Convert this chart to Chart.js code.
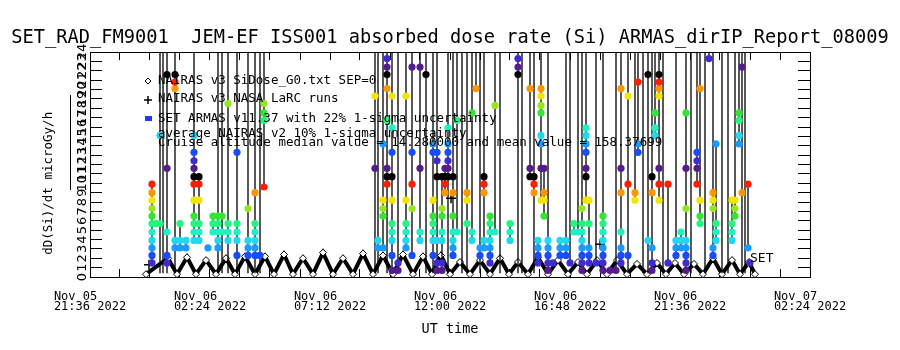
<!DOCTYPE html>
<html>
<head>
<meta charset="utf-8">
<script src="https://cdn.jsdelivr.net/npm/chart.js@4/dist/chart.umd.min.js"></script>
<style>
  html, body { margin: 0; padding: 0; background: #fff; }
</style>
</head>
<body>
<canvas id="dose" width="900" height="350"></canvas>
<script>
// time axis in hours since Nov 05 00:00 UT
const xTickHours = [21.6, 26.4, 31.2, 36.0, 40.8, 45.6, 50.4];
const xTickLabels = [
  ['Nov 05    ', '21:36 2022'],
  ['Nov 06    ', '02:24 2022'],
  ['Nov 06    ', '07:12 2022'],
  ['Nov 06    ', '12:00 2022'],
  ['Nov 06    ', '16:48 2022'],
  ['Nov 06    ', '21:36 2022'],
  ['Nov 07    ', '02:24 2022']
];

// SET ARMAS v11.37 samples, one column per burst (150 = off scale)
const armasTime = [
  24.08, 24.24, 24.40, 24.52, 24.68, 25.00, 25.20, 25.44, 25.76, 25.96,
  26.32, 26.52, 26.72, 26.88, 27.12, 27.48, 27.92, 28.20, 28.40, 28.56,
  33.00, 33.12, 33.32, 33.48, 33.68, 33.92, 34.24, 34.48, 34.80, 35.04,
  35.32, 35.48, 35.68, 35.80, 35.92, 36.12, 36.28, 36.48,
  36.68, 36.88, 37.04, 37.20, 37.36, 37.60, 37.80, 38.00, 38.40, 38.72,
  38.88, 39.20, 39.36, 39.52, 39.64, 39.76, 39.92, 40.12, 40.40, 40.64, 40.80,
  40.96, 41.12, 41.28, 41.44, 41.56, 41.84, 42.12, 42.40, 42.64, 42.84,
  43.12, 43.40, 43.52, 43.72,
  43.92, 44.08, 44.20, 44.36, 44.52, 44.72, 45.04, 45.24, 45.44, 45.64,
  45.88, 46.00, 46.20, 46.36,
  46.52, 46.64, 46.88, 47.12, 47.28, 47.40, 47.56, 47.68, 47.80, 47.92, 48.00
];
const armasDose = [
  [1.5, 2.3, 3.1, 3.9, 4.8, 5.7, 6.5, 7.3, 8.2, 9.0, 9.9],
  [5.7],
  [0.4, 5.7, 15.1, 150],
  [0.4, 150],
  [0.4, 1.5, 2.3, 4.8, 11.6, 21.6, 150],
  [0.4, 3.1, 3.9, 20.1, 20.8, 21.6, 150],
  [3.1, 3.9, 5.7],
  [3.1, 3.9],
  [3.9, 4.8, 5.7, 6.5, 8.2, 9.9, 10.7, 11.6, 12.4, 13.3, 15.1, 150],
  [3.9, 4.8, 5.7, 8.2, 9.9, 10.7],
  [3.1],
  [4.8, 5.7, 6.5],
  [0.4, 3.1, 3.9, 4.8, 5.7, 6.5, 150],
  [0.4, 4.8, 6.5, 150],
  [0.4, 3.9, 4.8, 5.7, 18.5, 150],
  [0.4, 2.3, 3.9, 4.8, 5.7, 13.3, 150],
  [0.4, 2.3, 3.1, 3.9, 7.3, 150],
  [0.4, 2.3, 3.1, 3.9, 4.8, 5.7, 9.0, 150],
  [0.4, 2.3, 150],
  [9.6, 16.7, 17.5, 18.5, 150],
  [0.4, 11.6, 19.3, 150],
  [0.4, 3.1, 3.9, 150],
  [3.1, 6.5, 7.3, 8.2, 14.2, 150],
  [0.4, 9.9, 10.7, 11.6, 16.7, 20.1, 21.6, 22.4, 23.3, 150],
  [0.7, 2.3, 3.9, 4.8, 5.7, 8.2, 10.7, 13.3, 15.9, 19.3, 150],
  [0.7, 1.5, 150],
  [3.1, 3.9, 4.8, 5.7, 8.2, 19.3, 150],
  [2.3, 7.3, 9.9, 13.3, 22.4, 150],
  [3.9, 4.8, 11.6, 22.4, 150],
  [0.4, 21.6, 150],
  [0.4, 2.3, 3.9, 4.8, 5.7, 6.5, 8.2, 13.3, 14.2, 150],
  [0.7, 1.5, 3.9, 10.7, 12.4, 13.3, 150],
  [0.7, 1.5, 3.9, 4.8, 6.5, 7.3, 10.7],
  [9.0, 9.9, 10.7, 11.6],
  [0.4, 10.7, 11.6, 12.4, 13.3, 14.2, 15.9, 150],
  [2.3, 3.1, 3.9, 4.8, 6.5, 9.0, 10.7, 150],
  [4.8, 16.7, 150],
  [0.4, 150],
  [0.4, 5.7, 8.2, 9.0, 150],
  [3.9, 4.8, 17.5, 150],
  [20.1, 150],
  [0.4, 2.3, 3.1, 150],
  [3.1, 3.9, 9.0, 9.9, 10.7, 150],
  [1.5, 2.3, 3.1, 3.9, 4.8, 5.7, 6.5],
  [4.8, 18.3, 150],
  [0.4, 150],
  [3.9, 4.8, 5.7],
  [0.4, 21.6, 22.4, 23.3, 150],
  [0.4, 150],
  [10.7, 11.6, 20.1, 150],
  [0.4, 9.0, 9.9, 10.7, 150],
  [1.5, 2.3, 3.1, 3.9],
  [8.2, 11.6, 14.2, 15.1, 17.5, 18.3, 19.3, 20.1, 150],
  [6.5, 8.2, 9.0, 11.6],
  [0.7, 1.5, 2.3, 3.1, 3.9, 150],
  [1.5],
  [2.3, 3.1, 3.9],
  [2.3, 3.1, 3.9, 150],
  [1.5, 150],
  [4.8, 5.7],
  [4.8, 150],
  [0.7, 1.5, 2.3, 3.1, 3.9, 4.8, 5.7, 7.3, 150],
  [8.2, 10.7, 11.6, 13.3, 14.2, 15.1, 15.9, 150],
  [1.5, 2.3, 3.1, 5.7, 8.2],
  [1.5, 150],
  [0.7, 1.5, 2.3, 3.1, 3.9, 4.8, 5.7, 6.5, 150],
  [0.7],
  [0.7, 150],
  [1.5, 2.3, 3.1, 4.8, 9.0, 11.6, 20.1, 150],
  [0.4, 2.3, 9.9, 19.3, 150],
  [8.2, 9.0, 150],
  [13.3, 14.2, 20.8, 150],
  [0.4, 150],
  [0.4, 3.9, 21.6, 150],
  [0.7, 1.5, 3.1, 9.0, 10.7, 150],
  [15.1, 15.9, 17.5, 150],
  [8.2, 9.9, 11.6, 19.3, 20.1, 20.8, 21.6, 150],
  [0.4, 150],
  [1.5, 9.9],
  [2.3, 3.1, 3.9, 150],
  [3.1, 3.9, 4.8],
  [0.7, 1.5, 2.3, 3.1, 3.9, 7.3, 11.6, 17.5, 150],
  [0.4, 150],
  [9.9, 11.6, 12.4, 13.3, 150],
  [5.7, 6.5, 8.2, 20.1, 150],
  [0.4, 150],
  [23.3, 150],
  [2.3, 3.1, 7.3, 8.2, 9.0, 150],
  [3.9, 4.8, 5.7, 14.2],
  [0.4, 150],
  [0.4, 150],
  [3.9, 4.8, 5.7, 8.2],
  [6.5, 7.3, 8.2, 150],
  [14.2, 15.1, 16.7, 17.5, 150],
  [0.4, 9.0, 22.4, 150],
  [0.4, 150],
  [3.1, 9.9],
  [1.5]
];

// NAIRAS v3 SiDose_G0 (orbit-modulated dose)
const nairasTime = [
  23.84, 24.72, 25.08, 25.48, 25.84, 26.24, 26.64, 27.04, 27.40, 27.80,
  28.20, 28.60, 28.96, 29.36, 29.72, 30.12, 30.52, 30.92, 31.32, 31.72,
  32.12, 32.52, 32.92, 33.32, 33.72, 34.12, 34.52, 34.92, 35.28, 35.64,
  36.00, 36.40, 36.80, 37.20, 37.60, 38.00, 38.36, 38.72, 39.12, 39.52,
  39.92, 40.32, 40.72, 41.12, 41.48, 41.88, 42.28, 42.68, 43.08, 43.48,
  43.88, 44.28, 44.64, 45.00, 45.36, 45.76, 46.12, 46.52, 46.88, 47.28,
  47.60, 47.96, 48.20
];
const nairasDose = [
  0.3, 2.0, 0.3, 2.1, 0.3, 1.8, 0.3, 2.0, 0.3, 2.2,
  0.3, 2.2, 0.3, 2.4, 0.3, 2.0, 0.3, 2.6, 0.3, 2.0,
  0.3, 2.5, 0.3, 2.3, 0.3, 2.4, 0.3, 2.2, 0.3, 2.3,
  0.3, 1.6, 0.3, 1.8, 0.3, 2.0, 0.3, 1.6, 0.3, 2.1,
  0.3, 1.8, 0.3, 1.6, 0.3, 1.8, 0.3, 1.8, 0.3, 1.4,
  0.3, 1.5, 0.3, 1.5, 0.3, 1.4, 0.3, 2.0, 0.3, 1.8,
  0.3, 1.6, 0.3
];

// NAIRAS v3 NASA LaRC runs
const larcTime = [23.96, 36.04, 42.00];
const larcDose = [1.3, 8.4, 3.5];

const legendLines = [
  'NAIRAS v3 SiDose_G0.txt SEP=0',
  'NAIRAS v3 NASA LaRC runs',
  'SET ARMAS v11.37 with 22% 1-sigma uncertainty',
  'average NAIRAS v2 10% 1-sigma uncertainty',
  'Cruise altitude median value = 14.280000 and mean value = 158.37699'
];

// rainbow colour table cycling with dose level
const levelColors = ['#561b8d', '#3f2ccf', '#1a4cff', '#1a9bff', '#22d8ee', '#22f0c0',
  '#22f580', '#33e633', '#96e61e', '#f0e600', '#ff9600', '#ff1e00', '#000000'];
function levelColor(v) {
  if (v == null) return '#000';
  let i = Math.round((v - 0.7) / 0.835) % 13;
  if (i < 0) i += 13;
  return levelColors[i];
}

const armasPoints = [];
armasTime.forEach((t, i) => {
  armasDose[i].forEach(d => armasPoints.push({x: t, y: d}));
  armasPoints.push({x: t, y: null});
});
const nairasPoints = nairasTime.map((t, i) => ({x: t, y: nairasDose[i]}));
const larcPoints = larcTime.map((t, i) => ({x: t, y: larcDose[i]}));

const allTicks = [];
for (let i = 0; i < xTickHours.length - 1; i++) {
  for (let k = 0; k < 4; k++) allTicks.push(xTickHours[i] + k * (xTickHours[i + 1] - xTickHours[i]) / 4);
}
allTicks.push(xTickHours[xTickHours.length - 1]);

const FONT = 'DejaVu Sans';
const MONO = 'DejaVu Sans Mono';

const overlay = {
  id: 'overlay',
  beforeDraw(chart) {
    const c = chart.ctx;
    c.save();
    c.fillStyle = '#fff';
    c.fillRect(0, 0, chart.width, chart.height);
    c.restore();
  },
  afterDatasetsDraw(chart) {
    const c = chart.ctx;
    c.save();
    c.fillStyle = '#000';
    c.strokeStyle = '#000';
    c.font = '12.5px "' + MONO + '"';
    c.textBaseline = 'middle';
    const ly = [81, 99, 119, 134, 143];
    legendLines.forEach((s, i) => c.fillText(s, 158, ly[i]));
    // diamond
    c.lineWidth = 1;
    c.beginPath();
    c.moveTo(148, 78); c.lineTo(151, 81); c.lineTo(148, 84); c.lineTo(145, 81); c.closePath();
    c.stroke();
    // plus
    c.lineWidth = 1.5;
    c.beginPath();
    c.moveTo(144, 100); c.lineTo(152, 100); c.moveTo(148, 96); c.lineTo(148, 104);
    c.stroke();
    // square
    c.fillStyle = '#1a3cff';
    c.fillRect(145, 116, 7, 5);
    c.fillStyle = '#000';
    c.font = '13px "' + MONO + '"';
    c.fillText('SET', 750, 259);
    c.lineWidth = 1;
    c.beginPath();
    c.moveTo(70.5, 95); c.lineTo(70.5, 190);
    c.stroke();
    c.restore();
  }
};

new Chart(document.getElementById('dose'), {
  type: 'scatter',
  data: {
    datasets: [
      {
        label: 'SET ARMAS v11.37',
        data: armasPoints,
        showLine: true,
        spanGaps: false,
        borderColor: '#000',
        borderWidth: 1.3,
        pointRadius: ctx => {
          const v = ctx.raw ? ctx.raw.y : null;
          return (v == null || v < 0.5 || v > 24) ? 0 : 3.6;
        },
        pointBackgroundColor: ctx => levelColor(ctx.raw ? ctx.raw.y : null),
        pointBorderWidth: 0
      },
      {
        label: 'NAIRAS v3 NASA LaRC runs',
        data: larcPoints,
        pointStyle: 'cross',
        pointRadius: 5,
        borderColor: '#000',
        pointBorderWidth: 1.5
      },
      {
        label: 'NAIRAS v3 SiDose_G0.txt SEP=0',
        data: nairasPoints,
        showLine: true,
        borderColor: '#000',
        borderWidth: 4,
        pointStyle: 'rectRot',
        pointRadius: 3.5,
        pointBackgroundColor: '#fff',
        pointBorderColor: '#000',
        pointBorderWidth: 1
      }
    ]
  },
  options: {
    responsive: false,
    devicePixelRatio: 1,
    animation: false,
    layout: { padding: 0 },
    plugins: {
      legend: { display: false },
      tooltip: { enabled: false },
      title: {
        display: true,
        text: 'SET_RAD_FM9001  JEM-EF ISS001 absorbed dose rate (Si) ARMAS_dirIP_Report_08009',
        color: '#000',
        font: { family: MONO, size: 18.7, weight: 'normal' },
        padding: { top: 26.8, bottom: 2.8 }
      }
    },
    scales: {
      x: {
        type: 'linear', position: 'bottom', min: 21.6, max: 50.4,
        afterBuildTicks: s => { s.ticks = allTicks.map(v => ({value: v})); },
        afterFit: s => { s.height = 73; },
        ticks: {
          autoSkip: false, maxRotation: 0, minRotation: 0, padding: 23.2, color: '#000',
          font: { family: MONO, size: 12, lineHeight: 0.8 },
          callback: v => {
            const i = xTickHours.findIndex(h => Math.abs(h - v) < 1e-6);
            return i < 0 ? '' : xTickLabels[i];
          }
        },
        grid: { drawOnChartArea: false, tickLength: -8, color: '#000' },
        border: { color: '#000', width: 1 },
        title: {
          display: true, text: 'UT time', color: '#000',
          font: { family: MONO, size: 13.5 }, padding: { top: 0, bottom: 12.9 }
        }
      },
      x2: {
        type: 'linear', position: 'top', min: 21.6, max: 50.4,
        afterBuildTicks: s => { s.ticks = allTicks.map(v => ({value: v})); },
        afterFit: s => { s.height = 0; },
        ticks: { display: false },
        grid: { drawOnChartArea: false, tickLength: -8, color: '#000' },
        border: { color: '#000', width: 1 }
      },
      y: {
        type: 'linear', position: 'left', min: 0, max: 24,
        afterFit: s => { s.width = 90; },
        ticks: {
          stepSize: 1, autoSkip: false, minRotation: 90, maxRotation: 90,
          crossAlign: 'center', padding: 11.5, color: '#000',
          font: { family: FONT, size: 13 }
        },
        grid: { drawOnChartArea: false, tickLength: -12, color: '#000' },
        border: { color: '#000', width: 1 },
        title: {
          display: true, text: 'dD(Si)/dt microGy/h     ', color: '#000',
          font: { family: MONO, size: 12.5 }, padding: { top: 41, bottom: 0 }
        }
      },
      y2: {
        type: 'linear', position: 'right', min: 0, max: 24,
        afterFit: s => { s.width = 90; },
        ticks: { stepSize: 1, display: false },
        grid: { drawOnChartArea: false, tickLength: -12, color: '#000' },
        border: { color: '#000', width: 1 }
      }
    }
  },
  plugins: [overlay]
});
</script>
</body>
</html>
